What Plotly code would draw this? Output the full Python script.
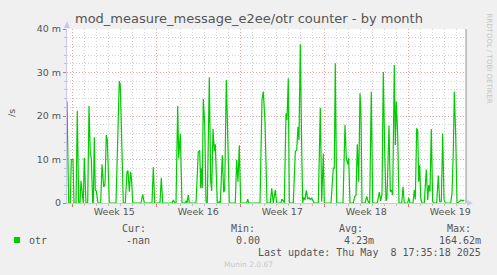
import plotly.graph_objects as go

# time in hours since Mon 2025-04-07 00:00, rate in milli-events/s
hours = [-10.6, -7.2, -4.0, -2.0, 1.4, 3.4, 7.4, 10.0, 12.8, 15.4, 17.4, 19.4, 20.8, 22.0, 24.0,
         27.4, 30.8, 33.4, 36.0, 38.0, 40.8, 42.0, 44.0, 46.0, 48.0, 51.4, 56.8, 59.4, 62.8, 65.4,
         68.0, 70.0, 74.0, 87.4, 94.0, 96.0, 102.0, 106.0, 109.4, 111.4, 114.0, 116.8, 118.8, 120.8,
         137.4, 140.8, 144.0, 159.4, 162.0, 164.8, 175.4, 178.0, 180.8, 199.4, 202.0, 204.8, 207.4,
         210.8, 212.8, 216.0, 219.4, 225.4, 227.4, 229.4, 232.0, 234.0, 247.4, 252.0, 254.8, 256.8,
         258.0, 260.0, 262.0, 264.8, 267.4, 270.0, 274.0, 276.8, 278.8, 281.4, 284.0, 286.0, 287.4,
         290.0, 294.0, 296.0, 300.0, 302.8, 304.8, 308.0, 310.0, 314.0, 326.0, 328.8, 331.4, 334.0,
         336.8, 348.8, 350.8, 352.8, 375.4, 379.4, 382.0, 385.4, 389.4, 396.0, 398.8, 402.0, 406.0,
         408.8, 417.4, 419.4, 422.0, 424.0, 427.4, 429.4, 432.0, 434.0, 442.0, 446.0, 448.8, 451.4,
         453.4, 456.0, 458.8, 460.8, 462.8, 465.4, 468.0, 470.8, 473.4, 476.0, 478.8, 481.4, 484.0,
         492.0, 496.0, 498.8, 502.0, 504.0, 517.4, 522.0, 524.0, 526.0, 528.8, 541.4, 545.4, 548.0,
         550.8, 552.8, 555.4, 562.0, 564.8, 567.4, 570.0, 572.8, 575.4, 577.4, 579.4, 585.4, 588.8,
         590.8, 592.8, 594.8, 598.0, 600.8, 610.0, 614.0, 616.8, 619.4, 622.0, 624.8, 627.4, 629.4,
         633.4, 636.0, 638.0, 640.8, 644.0, 646.0, 648.0, 650.8, 653.4, 658.8, 661.4, 664.0, 670.8,
         672.8, 675.4, 681.4, 684.0, 686.0, 688.8, 690.8, 692.8, 694.8, 696.8, 699.4, 704.0, 708.0,
         710.8, 712.8, 715.4, 718.0, 720.8, 723.4, 728.8, 732.0, 734.8, 738.0, 740.8, 743.4, 746.0,
         756.8, 759.4, 762.0, 764.0, 766.8, 769.4, 774.0, 777.4, 780.8, 784.0]
rate_m = [23.4, 0, 0, 10.0, 10.0, 0, 0, 21.2, 0, 0, 5.1, 2.9, 0, 0, 10.4,
          0, 0, 22.3, 11.4, 10.3, 0, 0, 15.1, 2.9, 2.8, 0, 0, 8.9, 3.7, 4.3,
          15.6, 14.6, 0, 0, 28.0, 27.1, 0, 0, 7.2, 7.4, 2.6, 7.2, 4.9, 0,
          0, 2.0, 0, 0, 8.2, 0, 0, 5.8, 0, 0, 0.7, 0, 0,
          22.3, 10.3, 15.9, 0, 0, 0.5, 0, 1.8, 0, 0, 11.8, 12.1, 3.4,
          8.0, 3.4, 23.9, 18.0, 0.3, 0, 28.9, 4.9, 2.8, 17.0, 11.9, 13.5, 8.7,
          0, 0.3, 0, 11.0, 2.5, 3.0, 28.3, 19.5, 0, 0, 9.9, 4.9, 13.3,
          0, 0, 0.9, 0, 0, 23.7, 25.6, 18.7, 0, 0, 3.4, 0, 3.0,
          0, 0, 0.9, 0.5, 0, 20.6, 19.1, 28.7, 0, 0, 11.8, 12.2, 17.5,
          14.5, 36.5, 12.6, 0, 1.3, 0.7, 2.9, 0.9, 1.2, 0.8, 1.1, 0.5, 0,
          0, 21.9, 0.3, 11.4, 0, 0, 8.0, 8.0, 32.1, 0, 0, 18.0, 10.3,
          8.9, 10.3, 0, 0, 1.5, 1.8, 13.5, 4.9, 25.2, 20.2, 0, 0, 1.5,
          0.7, 0, 0, 25.6, 0, 0, 2.5, 0.5, 2.0, 30.1, 11.8, 0.5, 1.1,
          17.8, 2.6, 3.0, 1.8, 31.7, 13.3, 23.3, 15.6, 0, 0, 3.7, 0, 0,
          1.2, 0, 0, 3.0, 0.8, 17.2, 16.6, 4.9, 8.7, 1.1, 0, 0, 7.7,
          0.7, 4.1, 2.6, 17.0, 0.3, 0, 0, 6.3, 0.3, 0.3, 16.0, 0.7, 0,
          0, 2.2, 11.8, 25.6, 15.6, 0, 0.3, 0.7, 0.5, 0.7]

week_centers = [84, 252, 420, 588, 756]
week_labels = ["Week 15", "Week 16", "Week 17", "Week 18", "Week 19"]
y_ticks = [0, 10, 20, 30, 40]
y_ticktext = ["0", "10 m", "20 m", "30 m", "40 m"]

legend_name = "otr"
legend_cur, legend_min, legend_avg, legend_max = "-nan", "0.00", "4.23m", "164.62m"
last_update = "Last update: Thu May  8 17:35:18 2025"

W, H = 497, 275
L, R, T, B = 67, 466, 29, 203
XR = [-10.6, 787.4]


def px(x):
    return (x - L) / (R - L)


def py(y):
    return (B - y) / (B - T)


SANS = "DejaVu Sans"
MONO = "DejaVu Sans Mono"
TXT = "#555555"
MINOR = "#d4d4d4"
MAJOR = "#f0a0a0"
AXIS = "#c8c8f0"
DOT = "1px,2px"

minor_days = [24 * k for k in range(0, 34) if k % 7 != 0]

fig = go.Figure()
# empty helper trace so the week-boundary axis (x2) gets drawn
fig.add_trace(go.Scatter(x=XR, y=[None, None], xaxis="x2", yaxis="y", mode="lines",
                         hoverinfo="skip", showlegend=False))
fig.add_trace(go.Scatter(x=hours, y=rate_m, mode="lines",
                         line=dict(color="#00cc00", width=1.2),
                         hoverinfo="skip", showlegend=False))

fig.update_layout(
    width=W, height=H,
    margin=dict(l=L, r=W - R, t=T, b=H - B, pad=0),
    paper_bgcolor="#f0f0f0", plot_bgcolor="#ffffff",
    showlegend=False,
    xaxis=dict(range=XR, tickmode="array", tickvals=week_centers, ticktext=week_labels,
               showgrid=False, zeroline=False, showline=True, linecolor=AXIS, linewidth=1,
               ticks="", tickfont=dict(family=SANS, size=9.5, color=TXT),
               minor=dict(tickmode="array", tickvals=minor_days, showgrid=True,
                          gridcolor=MINOR, griddash=DOT, gridwidth=1,
                          ticks="outside", ticklen=2, tickcolor="#c0c0c0")),
    xaxis2=dict(range=XR, overlaying="x", anchor="y", side="bottom",
                tickmode="linear", tick0=0, dtick=168, showticklabels=False,
                showgrid=True, gridcolor=MAJOR, griddash=DOT, gridwidth=1,
                zeroline=False, showline=False, ticks="outside", ticklen=3,
                tickcolor="#e07070"),
    yaxis=dict(range=[0, 40], tickmode="array", tickvals=y_ticks, ticktext=y_ticktext,
               showgrid=True, gridcolor=MAJOR, griddash=DOT, gridwidth=1,
               zeroline=False, showline=True, linecolor=AXIS, linewidth=1,
               ticks="outside", ticklen=3, tickcolor="#e07070",
               tickfont=dict(family=SANS, size=9.5, color=TXT),
               minor=dict(dtick=2, showgrid=True, gridcolor=MINOR, griddash=DOT,
                          ticks="outside", ticklen=2, tickcolor="#c0c0c0")),
)

# decorations: axis arrows and right border
fig.add_shape(type="path", xref="paper", yref="paper",
              path=f"M {px(64)} {py(28)} L {px(70)} {py(28)} L {px(67)} {py(21)} Z",
              fillcolor=AXIS, line=dict(width=0))
fig.add_shape(type="path", xref="paper", yref="paper",
              path=f"M {px(467)} {py(200)} L {px(467)} {py(206)} L {px(473)} {py(203)} Z",
              fillcolor=AXIS, line=dict(width=0))
fig.add_shape(type="line", xref="paper", yref="paper", x0=1, x1=1, y0=0, y1=1,
              line=dict(color="#909090", width=1))
fig.add_shape(type="rect", xref="paper", yref="paper",
              x0=px(14), x1=px(20), y0=py(243), y1=py(237),
              fillcolor="#00cc00", line=dict(width=0))


def ann(x, y, text, font, size, color=TXT, anchor="left", angle=0):
    fig.add_annotation(x=px(x), y=py(y), xref="paper", yref="paper", text=text,
                       showarrow=False, xanchor=anchor, yanchor="middle",
                       textangle=angle,
                       font=dict(family=font, size=size, color=color))


ann(248.5, 19, "mod_measure_message_e2ee/otr counter - by month", SANS, 13, anchor="center")
ann(11, 113, "/s", SANS, 9.5, anchor="center", angle=-90)
ann(488.5, 58, "RRDTOOL / TOBI OETIKER", SANS, 7, color="#c4c4c4", anchor="center", angle=90)

ann(27, 240, legend_name, MONO, 10)
ann(134, 228, "Cur:", MONO, 10, anchor="center")
ann(152, 240, legend_cur, MONO, 10, anchor="right")
ann(243, 228, "Min:", MONO, 10, anchor="center")
ann(261.5, 240, legend_min, MONO, 10, anchor="right")
ann(351, 228, "Avg:", MONO, 10, anchor="center")
ann(375.5, 240, legend_avg, MONO, 10, anchor="right")
ann(458.5, 228, "Max:", MONO, 10, anchor="center")
ann(483.5, 240, legend_max, MONO, 10, anchor="right")
ann(482.5, 252, last_update, MONO, 10, anchor="right")
ann(248, 264, "Munin 2.0.67", SANS, 7.5, color="#c8c8c8", anchor="center")

fig.write_html("out.html")
